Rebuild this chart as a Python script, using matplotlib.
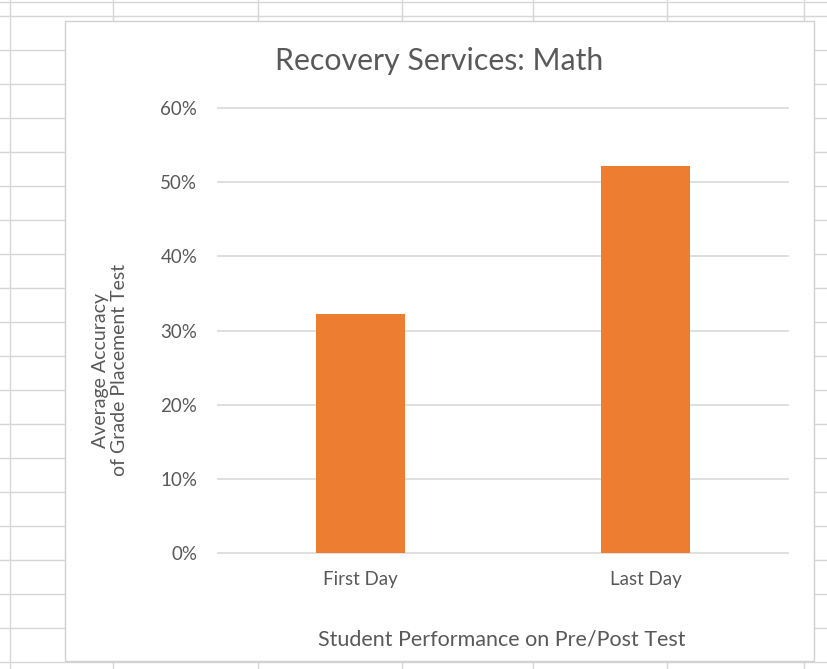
import matplotlib
matplotlib.use("Agg")
import matplotlib.pyplot as plt
from matplotlib.patches import Rectangle
from matplotlib.ticker import PercentFormatter

categories = ["First Day", "Last Day"]
values = [0.322, 0.522]
yticks = [0.0, 0.1, 0.2, 0.3, 0.4, 0.5, 0.6]

title = "Recovery Services: Math"
xlabel = "Student Performance on Pre/Post Test"
ylabel = "Average Accuracy\nof Grade Placement Test"

W, H = 828, 669
plt.rcParams['font.family'] = ['Lato', 'DejaVu Sans']
fig = plt.figure(figsize=(W / 100, H / 100), dpi=100)
fig.patch.set_facecolor('white')

# Spreadsheet background
bg = fig.add_axes([0, 0, 1, 1])
bg.set_xlim(0, W)
bg.set_ylim(H, 0)
bg.axis('off')
grid_c = '#d6d6d6'
row_ys = [2] + list(range(16, 669, 34))
for y in row_ys:
    bg.plot([0, W], [y, y], color=grid_c, lw=1.0, zorder=1)
for x in [10, 113, 258, 402, 533, 667, 804]:
    bg.plot([x, x], [0, H], color=grid_c, lw=1.0, zorder=1)
bg.add_patch(Rectangle((65, 21), 749, 640, facecolor='white', edgecolor='#d0d0d0', lw=1.0, zorder=2))

# Chart plot area
left, right, top, bottom = 218, 788, 108, 553
ax = fig.add_axes([left / W, (H - bottom) / H, (right - left) / W, (bottom - top) / H])
ax.set_facecolor('none')
x = range(len(categories))
ax.bar(x, values, width=0.31, color='#ED7D31', zorder=3)
ax.set_xlim(-0.5, 1.5)
ax.set_ylim(0, 0.6)
ax.set_yticks(yticks)
ax.yaxis.set_major_formatter(PercentFormatter(1.0, decimals=0))
ax.set_xticks(list(x))
ax.set_xticklabels(categories)
ax.grid(axis='y', color='#d9d9d9', lw=1.2, zorder=0)
for gl in ax.get_ygridlines():
    gl.set_clip_on(False)
ax.set_axisbelow(True)
for s in ax.spines.values():
    s.set_visible(False)
ax.tick_params(axis='both', length=0, colors='#595959', labelsize=13.5)
ax.tick_params(axis='y', pad=15)
ax.tick_params(axis='x', pad=13)

fig.text(439 / W, 1 - 61 / H, title, ha='center', va='center', fontsize=21.8, color='#595959')
fig.text(502 / W, 1 - 640 / H, xlabel, ha='center', va='center', fontsize=15.5, color='#595959')
fig.text(110 / W, 1 - 370 / H, ylabel, ha='center', va='center', rotation=90, fontsize=14,
         color='#595959', linespacing=1.15)

fig.savefig('out.png', dpi=100)
